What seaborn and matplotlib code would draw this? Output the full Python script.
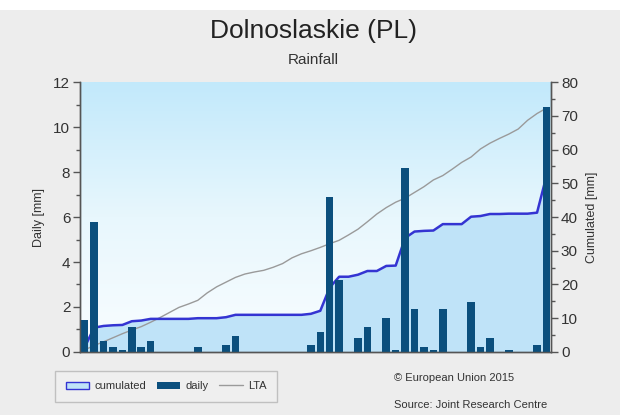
import numpy as np
import pandas as pd
import matplotlib
matplotlib.use("Agg")
import matplotlib.pyplot as plt
from matplotlib.patches import Patch, Rectangle
from matplotlib.lines import Line2D
from matplotlib.colors import LinearSegmentedColormap
import seaborn as sns

# Daily rainfall, 1 April .. 20 May (mm)
daily = [1.4, 5.8, 0.5, 0.2, 0.1, 1.1, 0.2, 0.5, 0.0, 0.0,
         0.0, 0.0, 0.2, 0.0, 0.0, 0.3, 0.7, 0.0, 0.0, 0.0,
         0.0, 0.0, 0.0, 0.0, 0.3, 0.9, 6.9, 3.2, 0.0, 0.6,
         1.1, 0.0, 1.5, 0.1, 8.2, 1.9, 0.2, 0.1, 1.9, 0.0,
         0.0, 2.2, 0.2, 0.6, 0.0, 0.1, 0.0, 0.0, 0.3, 10.9]

# Long-term average of cumulated rainfall (mm)
lta = [0.6, 1.9, 3.0, 4.2, 5.4, 6.5, 7.5, 8.8, 10.2, 11.7,
       13.2, 14.2, 15.3, 17.5, 19.3, 20.7, 22.1, 23.1, 23.7, 24.2,
       25.1, 26.2, 27.9, 29.1, 30.0, 31.0, 32.1, 33.1, 34.7, 36.4,
       38.6, 40.9, 42.8, 44.4, 45.6, 47.3, 49.0, 51.0, 52.3, 54.2,
       56.2, 57.8, 60.2, 61.9, 63.3, 64.6, 66.1, 68.7, 70.7, 72.3]

tick_days = [0, 30, 49]
tick_labels = ["1-Apr", "1-May", "20-May"]

df = pd.DataFrame({"day": np.arange(len(daily)), "daily": daily, "lta": lta})
df["cumulated"] = df["daily"].cumsum()

sns.set_theme(style="white")
plt.rcParams["font.family"] = ["Liberation Sans", "DejaVu Sans"]

BG = "#ededed"
BAR = "#0b4f7d"
CUM_LINE = "#3434d2"
CUM_FILL = "#bfe3f8"
LTA_C = "#9a9a9a"
AX_C = "#555555"
TXT = "#333333"

fig = plt.figure(figsize=(6.2, 4.15), dpi=100, facecolor=BG)
fig.patches.append(Rectangle((0, 0.975), 1, 0.025, transform=fig.transFigure,
                             facecolor="white", edgecolor="none", zorder=0))

ax2 = fig.add_axes([0.129, 0.152, 0.760, 0.650])   # cumulated (right)
ax = ax2.twinx()                                     # daily (left)
ax.yaxis.tick_left()
ax.yaxis.set_label_position("left")
ax2.yaxis.tick_right()
ax2.yaxis.set_label_position("right")
ax.set_zorder(ax2.get_zorder() + 1)
ax.patch.set_visible(False)

# background gradient of the plot area
grad = LinearSegmentedColormap.from_list("bg", ["#f9fdff", "#e8f7fd", "#c2e9fb"])
ax2.imshow(np.linspace(0, 1, 256).reshape(-1, 1), cmap=grad, origin="lower",
           aspect="auto", extent=[0, 1, 0, 1], transform=ax2.transAxes, zorder=0)

# cumulated area and lines
ax2.fill_between(df["day"], 0, df["cumulated"], color=CUM_FILL, zorder=1, lw=0)
sns.lineplot(data=df, x="day", y="cumulated", ax=ax2, color=CUM_LINE, lw=1.8, zorder=3)
sns.lineplot(data=df, x="day", y="lta", ax=ax2, color=LTA_C, lw=1.0, zorder=2)

# daily bars
sns.barplot(data=df, x="day", y="daily", ax=ax, color=BAR, width=0.8,
            native_scale=True, saturation=1, edgecolor="none")

ax.set_xlim(-0.5, 49.5)
ax2.set_xlim(-0.5, 49.5)
ax.set_ylim(0, 12)
ax2.set_ylim(0, 80)

ax.set_yticks(np.arange(0, 13, 2))
ax.set_yticks(np.arange(0, 13, 1), minor=True)
ax2.set_yticks(np.arange(0, 81, 10))
ax2.set_yticks(np.arange(0, 81, 5), minor=True)
for a in (ax, ax2):
    a.set_xticks(tick_days)
    a.set_xticks(np.arange(0, 50), minor=True)
ax.set_xticklabels(tick_labels)
ax2.set_xticklabels([])

ax.tick_params(axis="y", which="major", left=True, length=5, width=1, color=AX_C,
               labelsize=11, labelcolor=TXT, pad=2)
ax.tick_params(axis="y", which="minor", left=True, length=3, width=1, color=AX_C)
ax2.tick_params(axis="y", which="major", right=True, length=5, width=1, color=AX_C,
                labelsize=11, labelcolor=TXT, pad=2)
ax2.tick_params(axis="y", which="minor", right=True, length=3, width=1, color=AX_C)
ax.tick_params(axis="x", which="both", bottom=True, length=4, width=1, color=AX_C,
               labelsize=11, labelcolor=TXT, pad=1)
ax2.tick_params(axis="x", which="both", bottom=False)

ax.set_xlabel("")
ax2.set_xlabel("")
ax.set_ylabel("Daily [mm]", fontsize=9, color=TXT, labelpad=6)
ax2.set_ylabel("Cumulated [mm]", fontsize=9, color=TXT, labelpad=6)

for a in (ax, ax2):
    a.spines["top"].set_visible(False)
    for s in ("left", "right", "bottom"):
        a.spines[s].set_color(AX_C)
        a.spines[s].set_linewidth(1)

fig.text(0.506, 0.925, "Dolnoslaskie (PL)", ha="center", va="center",
         fontsize=19, color="#222222")
fig.text(0.506, 0.855, "Rainfall", ha="center", va="center",
         fontsize=11, color=TXT)

handles = [Patch(facecolor=CUM_FILL, edgecolor=CUM_LINE, lw=1),
           Patch(facecolor=BAR, edgecolor="none"),
           Line2D([0], [0], color=LTA_C, lw=1)]
leg = fig.legend(handles, ["cumulated", "daily", "LTA"], ncol=3,
                 loc="upper left", bbox_to_anchor=(0.089, 0.107),
                 frameon=True, fancybox=False, fontsize=8,
                 handlelength=2.1, handleheight=0.6, columnspacing=1.0,
                 borderpad=0.95, handletextpad=0.45, borderaxespad=0,
                 labelcolor=TXT)
leg.get_frame().set_edgecolor("#b5b5b5")
leg.get_frame().set_facecolor("#f0f0f0")
leg.get_frame().set_linewidth(1)

fig.text(0.635, 0.089, "\u00a9 European Union 2015", fontsize=8, color=TXT,
         ha="left", va="center")
fig.text(0.635, 0.024, "Source: Joint Research Centre", fontsize=8, color=TXT,
         ha="left", va="center")

fig.savefig("out.png", dpi=100, facecolor=BG)
